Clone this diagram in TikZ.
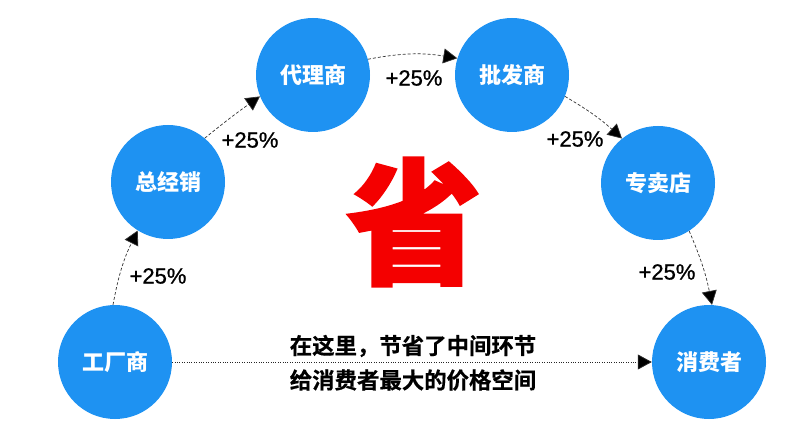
\documentclass[tikz,border=0pt]{standalone}
\usepackage{fontspec}
\usetikzlibrary{arrows.meta}
\setmainfont{Liberation Sans}
\newfontfamily\cjkb{Noto Sans CJK SC Bold}[FakeBold=0.5]
\newfontfamily\cjkh{Noto Sans CJK SC Black}
\newfontfamily\cjkbig{Noto Sans CJK SC Black}[FakeBold=1.5]
\newfontfamily\pct{Liberation Sans}[FakeBold=1]
\definecolor{bubble}{HTML}{1E92F2}
\definecolor{bigred}{HTML}{F40000}
\tikzset{
  bubble/.style={circle,fill=bubble,draw=none,minimum size=114pt,inner sep=0pt,text=white,font=\cjkh\fontsize{22}{22}\selectfont},
  rate/.style={font=\pct\fontsize{22}{22}\selectfont,text=black,inner sep=0pt},
  flow/.style={draw=black!80,line width=0.7pt,dash pattern=on 3pt off 2pt,-{Triangle[length=14pt,width=15pt,fill=black]}},
  direct/.style={draw=black!85,line width=0.8pt,dash pattern=on 1pt off 1.4pt,-{Triangle[length=14pt,width=15pt,fill=black]}},
  note/.style={font=\cjkb\fontsize{22.4}{22.4}\selectfont,text=black,inner sep=0pt},
}
\begin{document}
\begin{tikzpicture}[x=1pt,y=-1pt]
\useasboundingbox (0,0) rectangle (802,427);
\node[bubble] (fac) at (115,362) {工厂商};
\node[bubble] (zong) at (168,182) {总经销};
\node[bubble] (dai) at (313,75) {代理商};
\node[bubble] (pi) at (512,75) {批发商};
\node[bubble] (zhuan) at (658,183) {专卖店};
\node[bubble] (xiao) at (709,362) {消费者};
\draw[flow] (fac.92) to[bend left=8] (zong.238);
\draw[flow] (zong.50) to[bend left=2] (dai.202);
\draw[flow] (dai.16) to[bend left=10] (pi.163);
\draw[flow] (pi.-22) to[bend left=6] (zhuan.129);
\draw[flow] (zhuan.-57) to[bend left=6] (xiao.87);
\draw[direct] (fac) -- (xiao);
\node[rate] (r1) at (158,276) {+25\%};
\node[rate] (r2) at (250,140) {+25\%};
\node[rate] (r3) at (414,78) {+25\%};
\node[rate] (r4) at (575,139) {+25\%};
\node[rate] (r5) at (667,272) {+25\%};
\node[note] (n1) at (413,346) {在这里，节省了中间环节};
\node[note] (n2) at (413,380) {给消费者最大的价格空间};
\node[inner sep=0pt,text=bigred,font=\cjkbig\fontsize{136}{136}\selectfont] (big) at (414,222) {省};
\end{tikzpicture}
\end{document}
